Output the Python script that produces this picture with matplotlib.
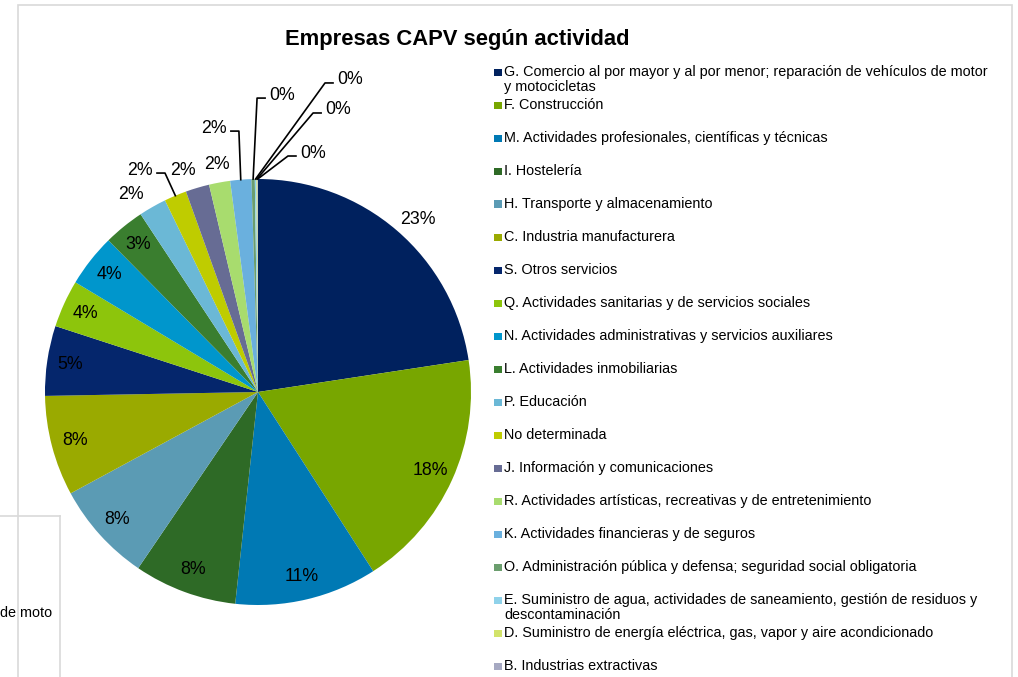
import matplotlib
matplotlib.use("Agg")
import matplotlib.pyplot as plt
import numpy as np
from matplotlib.patches import Rectangle
from matplotlib.lines import Line2D

plt.rcParams["font.family"] = ["Liberation Sans", "DejaVu Sans"]

# data (share of companies, %)
categories = [
    "G. Comercio al por mayor y al por menor; reparación de vehículos de motor\ny motocicletas",
    "F. Construcción",
    "M. Actividades profesionales, científicas y técnicas",
    "I. Hostelería",
    "H. Transporte y almacenamiento",
    "C. Industria manufacturera",
    "S. Otros servicios",
    "Q. Actividades sanitarias y de servicios sociales",
    "N. Actividades administrativas y servicios auxiliares",
    "L. Actividades inmobiliarias",
    "P. Educación",
    "No determinada",
    "J. Información y comunicaciones",
    "R. Actividades artísticas, recreativas y de entretenimiento",
    "K. Actividades financieras y de seguros",
    "O. Administración pública y defensa; seguridad social obligatoria",
    "E. Suministro de agua, actividades de saneamiento, gestión de residuos y\ndescontaminación",
    "D. Suministro de energía eléctrica, gas, vapor y aire acondicionado",
    "B. Industrias extractivas",
]
shares = [22.6, 18.3, 10.8, 7.8, 7.6, 7.6, 5.3, 3.6, 4.0, 3.1,
          2.1, 1.7, 1.8, 1.6, 1.6, 0.25, 0.12, 0.08, 0.04]
colors = [
    "#00215e", "#78a600", "#0079b4", "#2e6a26", "#5b9bb4", "#9aaa00",
    "#05266c", "#8dc50c", "#0096cc", "#3a7e2f", "#6bb8d6", "#bfcc00",
    "#676c94", "#a8dc6e", "#6ab0de", "#6b9e6e", "#8fd2ea", "#d2e36a",
    "#a6a9c2",
]

# label placement for slices whose label sits outside (pie radius units)
outside_pos = {
    0: (0.751, 0.808),
    10: (-0.596, 0.925),
    11: (-0.554, 1.042),
    12: (-0.352, 1.042),
    13: (-0.192, 1.066),
    14: (-0.207, 1.239),
    15: (0.113, 1.394),
    16: (0.432, 1.465),
    17: (0.376, 1.324),
    18: (0.258, 1.122),
}
# which side of the label the leader line leaves from
leaders = {11: "right", 14: "right", 15: "left", 16: "left", 17: "left", 18: "left"}

W, H = 1018, 677
fig = plt.figure(figsize=(W / 100, H / 100), dpi=100)

# background frames
fig.patches.append(Rectangle((18 / W, -0.1), (1012 - 18) / W, (H - 5) / H + 0.1,
                             transform=fig.transFigure, fill=False,
                             edgecolor="#d9d9d9", linewidth=1.2))
fig.lines.append(Line2D([0, 60 / W], [1 - 516 / H] * 2, transform=fig.transFigure,
                        color="#d9d9d9", linewidth=1.2))
fig.lines.append(Line2D([60 / W] * 2, [0, 1 - 516 / H], transform=fig.transFigure,
                        color="#d9d9d9", linewidth=1.2))
fig.text(0, 1 - 613 / H, "de moto", fontsize=10.4, va="center", ha="left")

# pie axes: centre (258, 392) px, radius 213 px
cx, cy, R, half = 258, 392, 213, 250
ax = fig.add_axes([(cx - half) / W, (H - cy - half) / H, 2 * half / W, 2 * half / H])
wedges, _, autotexts = ax.pie(
    shares, colors=colors, startangle=90, counterclock=False,
    autopct="%1.0f%%", pctdistance=0.89, radius=1,
    wedgeprops=dict(linewidth=0),
    textprops=dict(fontsize=12.8, color="black"),
)
lim = half / R
ax.set_xlim(-lim, lim)
ax.set_ylim(-lim, lim)
ax.set_aspect("equal")
ax.axis("off")

cw = 14 / R  # half width of a label in radius units
for i, (x, y) in outside_pos.items():
    autotexts[i].set_position((x, y))
    autotexts[i].set_clip_on(False)
    if i in leaders:
        w = wedges[i]
        ang = np.deg2rad((w.theta1 + w.theta2) / 2)
        px, py = np.cos(ang), np.sin(ang)
        side = 1 if leaders[i] == "right" else -1
        x0 = x + side * (cw + 3 / R)
        x1 = x0 + side * 8 / R
        ax.plot([x0, x1, px], [y - 3 / R, y - 3 / R, py], color="black",
                linewidth=1.2, clip_on=False)

fig.text(457 / W, 1 - 40 / H, "Empresas CAPV según actividad", fontsize=15.8,
         fontweight="bold", ha="center", va="center")

# legend drawn as a fixed-step list like the original
top, step = 72, 33
for k, (lab, col) in enumerate(zip(categories, colors)):
    y = top + k * step
    fig.patches.append(Rectangle((494 / W, 1 - (y + 4) / H), 7.5 / W, 7.5 / H,
                                 transform=fig.transFigure, facecolor=col,
                                 edgecolor="none"))
    fig.text(504 / W, 1 - (y - 7) / H, lab, fontsize=10.35, ha="left", va="top",
             linespacing=1.12)

fig.savefig("out.png", dpi=100)
